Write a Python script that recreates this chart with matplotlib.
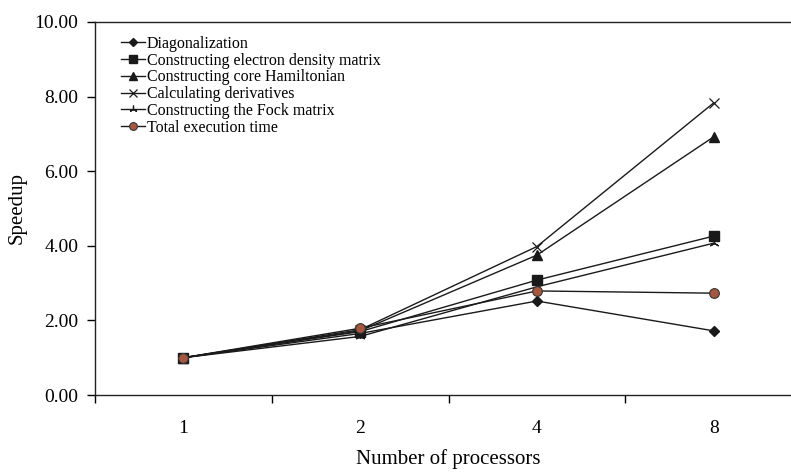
import matplotlib
matplotlib.use('Agg')
import matplotlib.pyplot as plt
import numpy as np

plt.rcParams['font.family'] = ['Liberation Serif', 'DejaVu Serif']

processors = ['1', '2', '4', '8']

diagonalization = [1.0, 1.65, 2.52, 1.72]
electron_density = [1.0, 1.70, 3.08, 4.26]
core_hamiltonian = [1.0, 1.72, 3.75, 6.92]
derivatives = [1.0, 1.75, 3.98, 7.83]
fock_matrix = [1.0, 1.57, 2.90, 4.07]
total_time = [1.0, 1.79, 2.79, 2.73]

labels = ['Diagonalization',
          'Constructing electron density matrix',
          'Constructing core Hamiltonian',
          'Calculating derivatives',
          'Constructing the Fock matrix',
          'Total execution time']

line_color = '#1a1a1a'
circle_color = '#a5573f'

fig = plt.figure(figsize=(7.91, 4.73), dpi=100)
ax = fig.add_axes([95 / 791, 78 / 473, 707 / 791, 373 / 473])

x = np.arange(len(processors))

ax.plot(x, diagonalization, color=line_color, lw=1, marker='D', ms=5,
        mfc=line_color, mec=line_color, label=labels[0])
ax.plot(x, electron_density, color=line_color, lw=1, marker='s', ms=7,
        mfc=line_color, mec=line_color, label=labels[1])
ax.plot(x, core_hamiltonian, color=line_color, lw=1, marker='^', ms=7,
        mfc=line_color, mec=line_color, label=labels[2])
ax.plot(x, derivatives, color=line_color, lw=1, marker='x', ms=7,
        mew=0.9, mec=line_color, label=labels[3])
ax.plot(x, fock_matrix, color=line_color, lw=1, marker=(3, 2, 0), ms=7,
        mew=0.9, mec=line_color, label=labels[4])
ax.plot(x, total_time, color=line_color, lw=1, marker='o', ms=7,
        mfc=circle_color, mec='#333333', mew=0.8, label=labels[5])

ax.set_xlim(-0.5, 3.5)
ax.set_ylim(0, 10)

# category labels sit between the tick marks
ax.set_xticks(np.arange(-0.5, 4, 1))
ax.set_xticklabels([])
ax.set_xticks(x, minor=True)
ax.set_xticklabels(processors, minor=True, fontsize=14)
ax.tick_params(axis='x', which='major', direction='out', length=6, width=1)
ax.tick_params(axis='x', which='minor', length=0, pad=18)

ax.set_yticks(np.arange(0, 11, 2))
ax.set_yticklabels([f'{v:.2f}' for v in np.arange(0, 11, 2)], fontsize=14)
ax.tick_params(axis='y', direction='out', length=6, width=1, pad=6)

for s in ax.spines.values():
    s.set_linewidth(1)
    s.set_color('#222222')

ax.set_xlabel('Number of processors', fontsize=15, labelpad=9)
ax.set_ylabel('Speedup', fontsize=15, labelpad=6)

ax.legend(loc='upper left', bbox_to_anchor=(0.028, 0.98), frameon=False,
          fontsize=11.5, handlelength=1.5, handletextpad=0.1,
          labelspacing=0.05, borderaxespad=0, markerscale=0.8)

fig.savefig('out.png', dpi=100)
